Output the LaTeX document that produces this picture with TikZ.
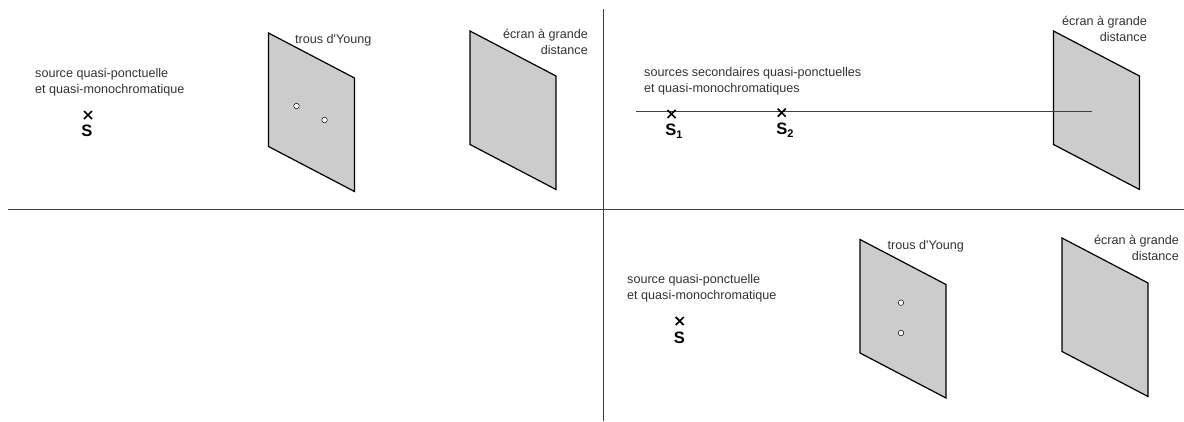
\documentclass[tikz,border=0pt]{standalone}
\usepackage{fontspec}
\setmainfont{Liberation Sans}[Ligatures=TeXOff]
\tikzset{
  panel/.style={draw=black,fill=black!20,line width=1.2pt,line join=miter},
  rule/.style={draw=black!75,line width=1pt},
  lbl/.style={font=\fontsize{12.6}{16}\selectfont,text=black!80,inner sep=0pt},
  mark label/.style={font=\bfseries\fontsize{16.5}{16.5}\selectfont,inner sep=0pt},
  cross/.style={draw=black,line width=1.7pt},
  hole/.style={circle,draw=black,fill=white,line width=0.5pt,minimum size=5.5pt,inner sep=0pt}
}
\newcommand{\panelat}[2]{\draw[panel] (#1,#2) -- ++(86,45) -- ++(0,113.5) -- ++(-86,-45) -- cycle;}
\newcommand{\crossat}[2]{\draw[cross] (#1-4,#2-4) -- (#1+4,#2+4) (#1-4,#2+4) -- (#1+4,#2-4);}
\newcommand{\subdigit}[1]{\raisebox{-3.5pt}{\fontsize{11}{11}\selectfont\bfseries #1}}
\begin{document}
\begin{tikzpicture}[x=1pt,y=-1pt]
\useasboundingbox (0,0) rectangle (1184,421);
\coordinate (hl) at (8,209); \coordinate (hr) at (1184,209);
\coordinate (vt) at (603,9); \coordinate (vb) at (603,421);
\draw[rule] (hl) -- (hr);
\draw[rule] (vt) -- (vb);
% top left
\node[lbl,anchor=west,align=left] (t1) at (35,82) {source quasi-ponctuelle\\et quasi-monochromatique};
\crossat{88}{115}
\node[mark label] (s) at (87,131) {S};
\panelat{268.5}{33}
\node[hole] (h1) at (296.5,106) {};
\node[hole] (h2) at (324.5,120) {};
\node[lbl,anchor=west] (t2) at (295,40) {trous d'Young};
\panelat{470}{31}
\node[lbl,anchor=east,align=right] (t3) at (588,42) {écran à grande\\distance};
% top right
\node[lbl,anchor=west,align=left] (t4) at (644,81) {sources secondaires quasi-ponctuelles\\et quasi-monochromatiques};
\coordinate (al) at (636,111.7); \coordinate (ar) at (1092,111.7);
\panelat{1053.5}{31}
\draw[draw=black!75,line width=1pt] (al) -- (ar);
\crossat{671.5}{114}
\crossat{781.7}{112.7}
\node[mark label] (s1) at (674,131) {S\subdigit{1}};
\node[mark label] (s2) at (785,130) {S\subdigit{2}};
\node[lbl,anchor=east,align=right] (t5) at (1147,28.5) {écran à grande\\distance};
% bottom right
\node[lbl,anchor=west,align=left] (t6) at (627,288) {source quasi-ponctuelle\\et quasi-monochromatique};
\crossat{679.7}{321}
\node[mark label] (s3) at (679.3,337.5) {S};
\panelat{860}{239.5}
\node[hole] (h3) at (901,302.7) {};
\node[hole] (h4) at (901,333) {};
\node[lbl,anchor=west] (t7) at (887.5,246) {trous d'Young};
\panelat{1062}{238}
\node[lbl,anchor=east,align=right] (t8) at (1179,248) {écran à grande\\distance};
\end{tikzpicture}
\end{document}
